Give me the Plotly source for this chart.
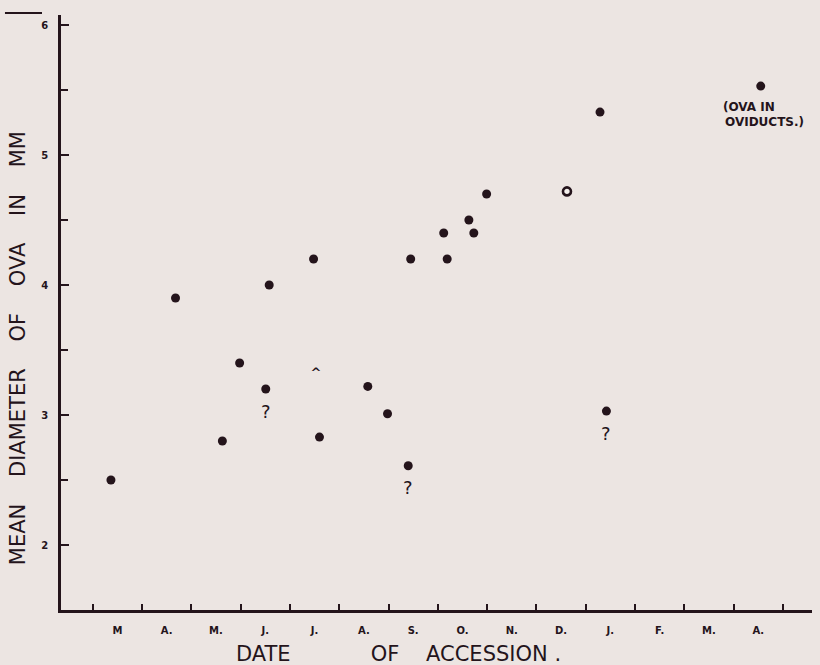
import plotly.graph_objects as go

# ---- data (x = months elapsed since 1 March; y = mean ova diameter, mm) ----
month_labels = ["M", "A.", "M.", "J.", "J.", "A.", "S.", "O.", "N.", "D.", "J.", "F.", "M.", "A."]
month_pos = [0.37, 1.68, 2.63, 2.98, 3.51, 3.58, 4.48, 4.60, 5.58, 5.98,
             6.40, 6.45, 7.12, 7.19, 7.63, 7.73, 7.99, 10.29, 10.42, 13.55]
diameter = [2.50, 3.90, 2.80, 3.40, 3.20, 4.00, 4.20, 2.83, 3.22, 3.01,
            2.61, 4.20, 4.40, 4.20, 4.50, 4.40, 4.70, 5.33, 3.03, 5.53]
doubtful = [False, False, False, False, True, False, False, False, False, False,
            True, False, False, False, False, False, False, False, True, False]
open_pos = [9.62]
open_diam = [4.72]
faint_pos = [4.53]
faint_diam = [3.32]
oviduct_pos = 13.55
oviduct_diam = 5.53
y_major = [2, 3, 4, 5, 6]
y_minor = [2.5, 3.5, 4.5, 5.5]

INK = "#24141b"
BG = "#ece5e2"
NB = "\u00a0"

fig = go.Figure()
fig.add_trace(go.Scatter(x=month_pos, y=diameter, mode="markers",
                         marker=dict(size=9, color=INK, line=dict(width=0)),
                         showlegend=False, hoverinfo="skip"))
fig.add_trace(go.Scatter(x=open_pos, y=open_diam, mode="markers",
                         marker=dict(size=8, color="#f4efec", line=dict(width=2.6, color=INK)),
                         showlegend=False, hoverinfo="skip"))
fig.add_trace(go.Scatter(x=faint_pos, y=faint_diam, mode="text", text=["^"],
                         textfont=dict(family="DejaVu Sans", size=13, color=INK, weight="bold"),
                         textposition="middle center",
                         showlegend=False, hoverinfo="skip"))

annotations = []
for xv, yv, d in zip(month_pos, diameter, doubtful):
    if d:
        annotations.append(dict(x=xv, y=yv, xref="x", yref="y", text="?", showarrow=False,
                                yshift=-22, font=dict(family="DejaVu Sans", size=18, color=INK)))

annotations.append(dict(x=oviduct_pos, y=oviduct_diam, xref="x", yref="y", text="(OVA" + NB + "IN",
                        showarrow=False, xanchor="left", yanchor="middle", xshift=-40, yshift=-21,
                        font=dict(family="DejaVu Sans", size=12, color=INK, weight="bold")))
annotations.append(dict(x=oviduct_pos, y=oviduct_diam, xref="x", yref="y", text="OVIDUCTS.)",
                        showarrow=False, xanchor="left", yanchor="middle", xshift=-38, yshift=-36,
                        font=dict(family="DejaVu Sans", size=12, color=INK, weight="bold")))

ytitle = (NB * 4).join(["MEAN", "DIAMETER", "OF", "OVA", "IN", "MM"])
annotations.append(dict(x=-0.0573, y=0.44, xref="paper", yref="paper", text=ytitle,
                        textangle=-90, showarrow=False, xanchor="center", yanchor="middle",
                        font=dict(family="DejaVu Sans", size=21, color=INK)))
xtitle = "DATE" + NB * 12 + "OF" + NB * 4 + "ACCESSION" + NB + "."
annotations.append(dict(x=0.4500, y=-0.074, xref="paper", yref="paper", text=xtitle,
                        showarrow=False, xanchor="center", yanchor="middle",
                        font=dict(family="DejaVu Sans", size=21, color=INK)))

fig.update_layout(
    width=820, height=665, autosize=False,
    margin=dict(l=61, r=8, t=15, b=55),
    paper_bgcolor=BG, plot_bgcolor=BG,
    annotations=annotations,
    shapes=[dict(type="line", xref="paper", yref="paper", x0=-0.0746, x1=-0.0253,
                 y0=1.0034, y1=1.0034, line=dict(color=INK, width=2))],
)

tickfont = dict(family="DejaVu Sans", size=10, color=INK, weight="bold")
fig.update_xaxes(
    range=[-0.643, 14.59], showgrid=False, zeroline=False,
    showline=True, linecolor=INK, linewidth=2.5,
    tickmode="array", tickvals=[i + 0.5 for i in range(len(month_labels))], ticktext=month_labels,
    ticks="", tickfont=tickfont, ticklabelstandoff=9,
    minor=dict(tickmode="array", tickvals=list(range(len(month_labels) + 1)),
               ticks="inside", ticklen=6, tickwidth=1.5, tickcolor=INK, showgrid=False),
)
fig.update_yaxes(
    range=[1.5, 6.077], showgrid=False, zeroline=False,
    showline=True, linecolor=INK, linewidth=2.5,
    tickmode="array", tickvals=y_major, ticktext=[str(v) for v in y_major],
    ticks="inside", ticklen=8, tickwidth=1.5, tickcolor=INK,
    tickfont=tickfont, ticklabelstandoff=8,
    minor=dict(tickmode="array", tickvals=y_minor,
               ticks="inside", ticklen=7, tickwidth=1.5, tickcolor=INK, showgrid=False),
)

fig.write_html(
    "out.html",
    config={"displayModeBar": False},
    post_script="document.body.style.margin='0px';document.body.style.padding='0px';"
                "document.body.style.background='" + BG + "';",
)
